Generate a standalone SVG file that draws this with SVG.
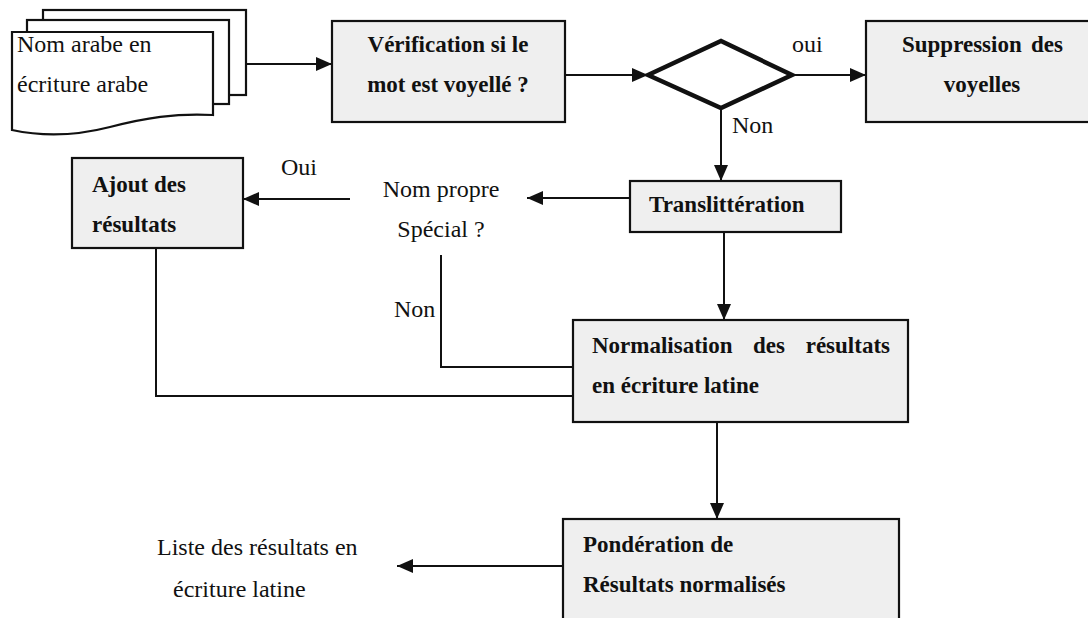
<svg xmlns="http://www.w3.org/2000/svg" width="1088" height="618" viewBox="0 0 1088 618">
<style>
.box{fill:#efefef;stroke:#111;stroke-width:2.2}
.doc{fill:#fff;stroke:#111;stroke-width:2.2}
.c{fill:none;stroke:#111;stroke-width:2}
.r{font-family:"Liberation Serif","Times New Roman",serif;font-size:24px;fill:#111}
.b{font-family:"Liberation Serif","Times New Roman",serif;font-size:23px;font-weight:bold;fill:#111}
</style>
<defs>
<marker id="ah" markerWidth="18" markerHeight="14" refX="16" refY="7" orient="auto" markerUnits="userSpaceOnUse">
<path d="M0,0 L16,7 L0,14 Z" fill="#111"/>
</marker>
</defs>
<rect width="1088" height="618" fill="#fff"/>
<g id="connectors">
<line class="c" x1="246" y1="64" x2="332" y2="64" marker-end="url(#ah)"/>
<line class="c" x1="565" y1="75" x2="648" y2="75" marker-end="url(#ah)"/>
<line class="c" x1="792" y1="75" x2="866" y2="75" marker-end="url(#ah)"/>
<line class="c" x1="721" y1="108" x2="721" y2="181" marker-end="url(#ah)"/>
<line class="c" x1="630" y1="198" x2="527" y2="198" marker-end="url(#ah)"/>
<line class="c" x1="350" y1="199" x2="243" y2="199" marker-end="url(#ah)"/>
<line class="c" x1="724" y1="232" x2="724" y2="320" marker-end="url(#ah)"/>
<polyline class="c" points="441,255 441,367 573,367"/>
<polyline class="c" points="156,248 156,396 573,396"/>
<line class="c" x1="717" y1="422" x2="717" y2="519" marker-end="url(#ah)"/>
<line class="c" x1="563" y1="566" x2="397" y2="566" marker-end="url(#ah)"/>
<text class="r" x="792" y="52">oui</text>
<text class="r" x="732" y="133">Non</text>
<text class="r" x="281" y="175">Oui</text>
<text class="r" x="394" y="317">Non</text>
</g>
<g id="doc">
<rect class="doc" x="43" y="10" width="203" height="85"/>
<rect class="doc" x="27" y="20" width="202" height="84"/>
<path class="doc" d="M12,32 H213 V115 C175,113 145,118 110,127 C75,136 40,136 12,130 Z"/>
<text class="r" x="17" y="52">Nom arabe en</text>
<text class="r" x="17" y="92">écriture arabe</text>
</g>
<g id="verif">
<rect class="box" x="332" y="21" width="233" height="101"/>
<text class="b" x="448" y="52" text-anchor="middle">Vérification si le</text>
<text class="b" x="448" y="92" text-anchor="middle">mot est voyellé ?</text>
</g>
<g id="decision">
<polygon points="648,75 721,41 792,75 721,108" fill="#fff" stroke="#111" stroke-width="4.5" stroke-linejoin="miter"/>
</g>
<g id="suppression">
<rect class="box" x="866" y="21" width="230" height="101"/>
<text class="b" x="902" y="52">Suppression</text>
<text class="b" x="1063" y="52" text-anchor="end">des</text>
<text class="b" x="982" y="92" text-anchor="middle">voyelles</text>
</g>
<g id="translit">
<rect class="box" x="630" y="181" width="211" height="51"/>
<text class="b" x="649" y="212">Translittération</text>
</g>
<g id="nompropre">
<text class="r" x="441" y="197" text-anchor="middle">Nom propre</text>
<text class="r" x="441" y="237" text-anchor="middle">Spécial ?</text>
</g>
<g id="ajout">
<rect class="box" x="72" y="158" width="171" height="90"/>
<text class="b" x="92" y="192">Ajout des</text>
<text class="b" x="92" y="232">résultats</text>
</g>
<g id="normalisation">
<rect class="box" x="573" y="320" width="335" height="102"/>
<text class="b" x="592" y="353">Normalisation</text>
<text class="b" x="753" y="353">des</text>
<text class="b" x="890" y="353" text-anchor="end">résultats</text>
<text class="b" x="592" y="393">en écriture latine</text>
</g>
<g id="ponderation">
<rect class="box" x="563" y="519" width="336" height="110"/>
<text class="b" x="583" y="552">Pondération de</text>
<text class="b" x="583" y="592">Résultats normalisés</text>
</g>
<g id="liste">
<text class="r" x="157" y="555">Liste des résultats en</text>
<text class="r" x="173" y="597">écriture latine</text>
</g>
</svg>
